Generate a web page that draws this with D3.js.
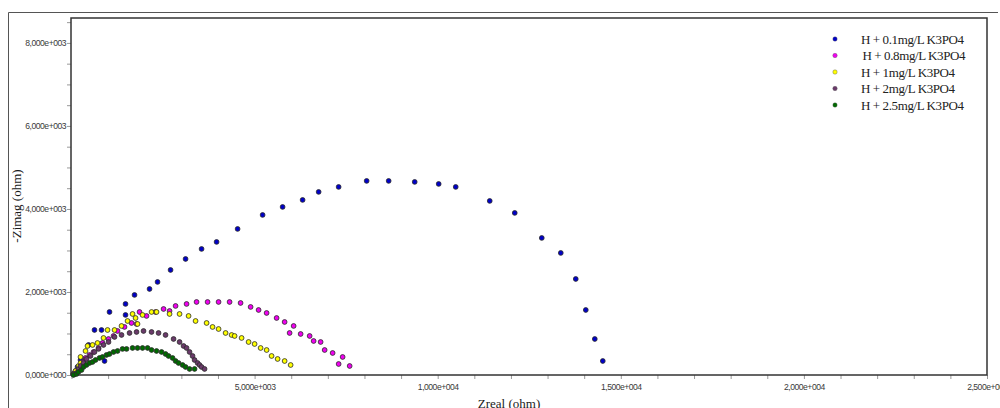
<!DOCTYPE html>
<html>
<head>
<meta charset="utf-8">
<script src="https://cdn.jsdelivr.net/npm/d3@7"></script>
<style>
  body { margin: 0; background: #fff; }
</style>
</head>
<body>
<div id="chart-area"></div>
<script>

// series names
var seriesNames = ["H + 0.1mg/L K3PO4", "H + 0.8mg/L K3PO4", "H + 1mg/L K3PO4", "H + 2mg/L K3PO4", "H + 2.5mg/L K3PO4"];

// Zreal / -Zimag values (ohm)
var blueX = [55,109,164,219,246,383,464,628,820,902,1038,1475,1475,1721,2131,2350,2705,3115,3552,3962,4536,5219,5765,6311,6749,7295,8060,8661,9372,10027,10492,11421,12104,12842,13361,13770,14044,14290,14508];
var blueY = [24,96,193,145,361,386,723,1084,1084,337,1518,1711,1446,1928,2072,2241,2530,2795,3036,3205,3518,3855,4048,4217,4410,4530,4675,4675,4651,4602,4530,4193,3904,3301,2940,2313,1566,867,337];

var magentaX = [82,137,191,246,328,383,492,601,738,847,1011,1148,1257,1448,1639,1776,1858,2049,2295,2514,2678,2842,3142,3415,3716,4016,4317,4617,4891,5109,5328,5601,5820,6066,5956,6257,6503,6612,6803,6913,7131,7404,7295,7596];
var magentaY = [24,48,145,217,313,410,482,554,651,771,867,940,1060,1157,1253,1229,1518,1422,1518,1590,1542,1663,1711,1759,1759,1759,1759,1735,1639,1566,1494,1373,1277,1181,1012,988,940,819,795,602,530,434,265,217];

var yellowX = [55,109,191,246,246,383,437,574,710,874,984,1175,1366,1530,1667,1749,1803,1940,2186,2322,2678,2951,3197,3388,3689,3852,4016,4208,4372,4454,4645,4836,5000,5164,5328,5464,5628,5820,5984];
var yellowY = [24,96,217,289,434,578,699,723,771,892,1084,1084,1181,1301,1470,1373,1229,1446,1518,1518,1470,1470,1422,1301,1253,1157,1108,1012,964,940,892,795,747,651,602,458,386,337,241];

var purpleX = [55,137,191,246,328,410,519,628,738,874,1011,1175,1366,1585,1776,1967,2186,2377,2568,2787,2951,3060,3142,3224,3306,3361,3443,3497,3552,3634];
var purpleY = [24,48,145,217,289,386,458,554,627,723,795,916,964,1012,1036,1060,1036,1012,964,867,795,699,651,554,458,361,289,241,193,145];

var greenX = [55,137,191,273,328,410,492,574,656,765,847,956,1038,1148,1257,1393,1503,1667,1803,1940,2077,2186,2322,2459,2568,2650,2760,2842,2923,3033,3115,3224,3361];
var greenY = [0,24,72,120,193,241,289,313,361,410,434,482,506,554,578,627,627,651,651,651,651,602,578,554,506,458,410,337,289,241,193,145,145];

var xMajorTicks = [0, 5000, 10000, 15000, 20000, 25000];
var yMajorTicks = [0, 2000, 4000, 6000, 8000];

var colors = ["#0000c8", "#f000f0", "#ffff00", "#6a3a6a", "#006a00"];

var plotLeft = 71, plotTop = 18, plotRight = 987, plotBottom = 375;

var svg = d3.select("#chart-area")
    .append("svg")
        .attr("width", 1000)
        .attr("height", 408);

// X Scale
var x = d3.scaleLinear()
    .domain([0, 25000])
    .range([plotLeft + 0.5, plotRight]);

// Y Scale
var y = d3.scaleLinear()
    .domain([0, 8600])
    .range([plotBottom, plotTop]);

// "8,000e+003" style labels
function sciLabel(v) {
    var e = v === 0 ? 0 : Math.floor(Math.log10(v));
    var m = v === 0 ? 0 : v / Math.pow(10, e);
    return m.toFixed(3).replace(".", ",") + "e+" + String(e).padStart(3, "0");
}

// outer frame
svg.append("path")
    .attr("d", "M8.5,420 L8.5,12.5 L998,12.5")
    .attr("fill", "none")
    .attr("stroke", "#555")
    .attr("stroke-width", 1);

// X Axis
var xAxisGroup = svg.append("g")
    .attr("transform", "translate(0," + plotBottom + ")");

xAxisGroup.call(d3.axisBottom(x)
    .tickValues(d3.range(0, 25001, 1000))
    .tickSize(4)
    .tickFormat(function(d) { return xMajorTicks.indexOf(d) >= 0 && d > 0 ? sciLabel(d) : ""; }));

// Y Axis
var yAxisGroup = svg.append("g")
    .attr("transform", "translate(" + plotLeft + ",0)");

yAxisGroup.call(d3.axisLeft(y)
    .tickValues(d3.range(0, 8501, 500))
    .tickSize(4)
    .tickFormat(function(d) { return yMajorTicks.indexOf(d) >= 0 ? sciLabel(d) : ""; }));

svg.selectAll(".domain").remove();
svg.selectAll(".tick line")
    .attr("stroke", "#999");
svg.selectAll(".tick text")
    .attr("font-family", "Arial, 'Liberation Sans', sans-serif")
    .attr("font-size", "8.6px")
    .attr("letter-spacing", "-0.5px")
    .attr("fill", "#3a3a3a");
xAxisGroup.selectAll(".tick text").attr("y", 9);
yAxisGroup.selectAll(".tick text").attr("x", -5);

// plot frame
svg.append("rect")
    .attr("x", plotLeft)
    .attr("y", plotTop)
    .attr("width", plotRight - plotLeft)
    .attr("height", plotBottom - plotTop)
    .attr("fill", "none")
    .attr("stroke", "#333")
    .attr("stroke-width", 1.5);

// X Label
svg.append("text")
    .attr("x", 509)
    .attr("y", 408)
    .attr("text-anchor", "middle")
    .attr("font-family", "'Liberation Serif', 'Times New Roman', serif")
    .attr("font-size", "13px")
    .attr("fill", "#1a1a1a")
    .text("Zreal (ohm)");

// Y Label
svg.append("text")
    .attr("transform", "translate(21,206) rotate(-90)")
    .attr("text-anchor", "middle")
    .attr("font-family", "'Liberation Serif', 'Times New Roman', serif")
    .attr("font-size", "13px")
    .attr("fill", "#1a1a1a")
    .text("-Zimag (ohm)");

// points
var allX = [blueX, magentaX, yellowX, purpleX, greenX];
var allY = [blueY, magentaY, yellowY, purpleY, greenY];

allX.forEach(function(xs, s) {
    var pts = xs.map(function(v, i) { return [v, allY[s][i]]; });
    svg.append("g")
        .selectAll("circle")
        .data(pts)
        .enter()
        .append("circle")
            .attr("cx", function(d) { return x(d[0]); })
            .attr("cy", function(d) { return y(d[1]); })
            .attr("r", 2.4)
            .attr("fill", colors[s])
            .attr("stroke", "#2a2a2a")
            .attr("stroke-width", 0.8);
});

// Legend
var legend = svg.append("g")
    .attr("transform", "translate(835,39)");

var rows = legend.selectAll("g")
    .data(seriesNames)
    .enter()
    .append("g")
        .attr("transform", function(d, i) { return "translate(0," + (i * 16.5) + ")"; });

rows.append("circle")
    .attr("r", 2.2)
    .attr("fill", function(d, i) { return colors[i]; })
    .attr("stroke", "#555")
    .attr("stroke-width", 0.4);

rows.append("text")
    .attr("x", function(d, i) { return i === 1 ? 27.5 : 26; })
    .attr("y", 4.5)
    .attr("font-family", "'Liberation Serif', 'Times New Roman', serif")
    .attr("font-size", "13px")
    .attr("letter-spacing", "-0.4px")
    .attr("fill", "#222")
    .text(function(d) { return d; });

</script>
</body>
</html>
